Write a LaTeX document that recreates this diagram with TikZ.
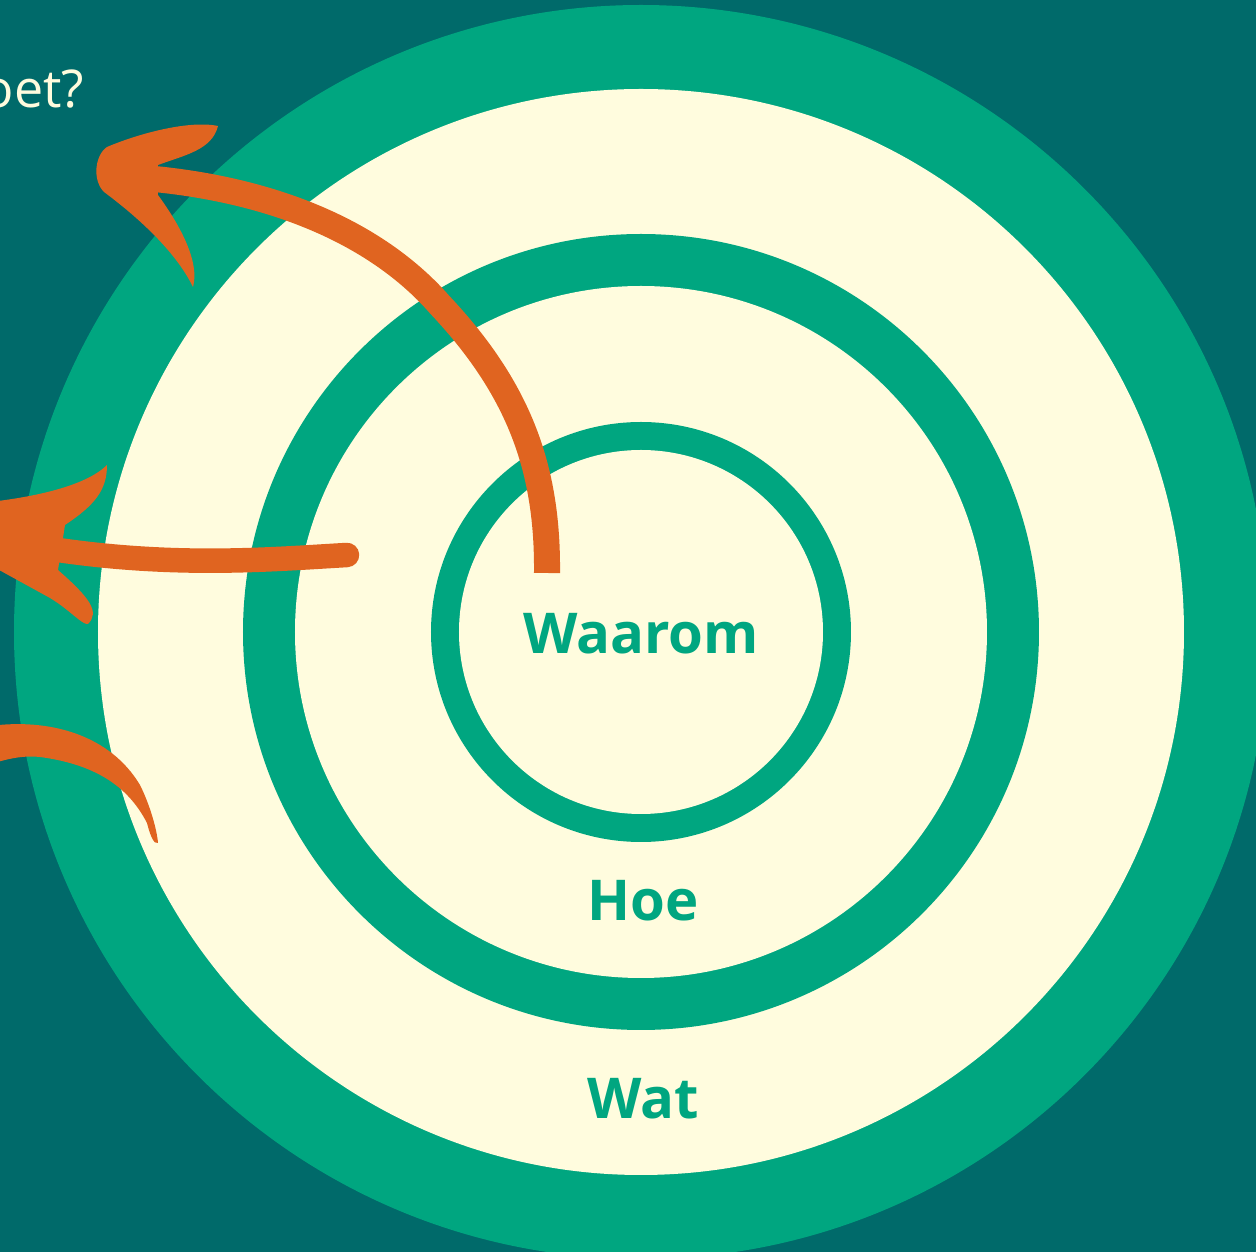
\documentclass[tikz,border=0pt]{standalone}
\usepackage{fontspec}
\setmainfont{Open Sans}
\definecolor{bgteal}{HTML}{006A6A}
\definecolor{ringgreen}{HTML}{00A680}
\definecolor{cream}{HTML}{FFFCDE}
\definecolor{brush}{HTML}{E06420}
\begin{document}
\begin{tikzpicture}[x=0.01cm, y=-0.01cm,
  label/.style={font=\fontsize{16}{19}\selectfont\bfseries, text=ringgreen, inner sep=0pt},
  stroke/.style={draw=brush, line cap=round}]
  \useasboundingbox (0,0) rectangle (1256,1252);
  \clip (0,0) rectangle (1256,1252);
  \fill[bgteal] (0,0) rectangle (1256,1252);
  % Rings
  \fill[ringgreen] (641,632) circle (627);
  \fill[cream] (641,632) circle (543);
  \fill[ringgreen] (641,632) circle (398);
  \fill[cream] (641,632) circle (346);
  \fill[ringgreen] (641,632) circle (210);
  \fill[cream] (641,632) circle (182);
  % Labels
  \node[label] (waarom) at (641,634) {Waarom};
  \node[label] (hoe) at (643,901) {Hoe};
  \node[label] (wat) at (643,1099) {Wat};
  \node[font=\fontsize{14.8}{18}\selectfont, text=cream, anchor=base east, inner sep=0pt] (vraag) at (85,108) {oet?};
  % Arrow from the centre
  \draw[stroke, line width=0.26cm, line cap=butt] (547,573) .. controls (548,470) and (520,390) .. (440,305)
    .. controls (370,225) and (255,185) .. (130,177);
  \fill[brush] (218,126) .. controls (190,120) and (140,133) .. (107,147)
    .. controls (95,155) and (92,180) .. (104,192)
    .. controls (135,215) and (175,250) .. (193,287)
    .. controls (200,262) and (180,225) .. (158,195) -- (158,165)
    .. controls (185,155) and (212,150) .. cycle;
  % Arrow from the middle ring
  \draw[stroke, line width=0.245cm] (347,555) .. controls (260,560) and (150,570) .. (0,540);
  \fill[brush] (107,465) .. controls (90,482) and (50,495) .. (-10,502) -- (-10,565) -- (50,598)
    .. controls (70,610) and (82,625) .. (88,624) .. controls (100,612) and (90,598) .. (58,570)
    -- (65,525) .. controls (95,505) and (107,490) .. cycle;
  % Arrow from the outer ring
  \fill[brush] (-10,726) .. controls (50,718) and (110,735) .. (140,785)
    .. controls (150,805) and (157,830) .. (158,843)
    .. controls (154,845) and (150,835) .. (147,823)
    .. controls (130,790) and (100,765) .. (40,757)
    .. controls (20,755) and (5,760) .. (-10,764) -- cycle;
\end{tikzpicture}
\end{document}
